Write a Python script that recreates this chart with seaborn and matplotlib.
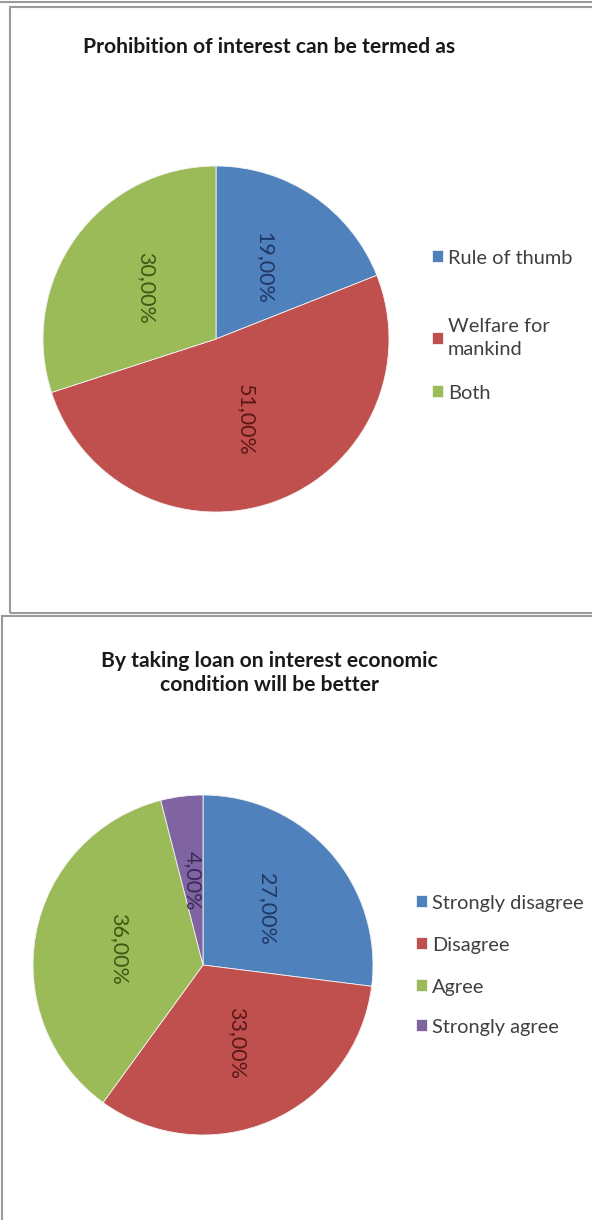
import matplotlib
matplotlib.use("Agg")
import matplotlib.pyplot as plt
import seaborn as sns
from matplotlib.patches import Rectangle
from matplotlib.lines import Line2D

# ---------------- data ----------------
title1 = "Prohibition of interest can be termed as"
labels1 = ["Rule of thumb", "Welfare for\nmankind", "Both"]
values1 = [19, 51, 30]

title2 = "By taking loan on interest economic\ncondition will be better"
labels2 = ["Strongly disagree", "Disagree", "Agree", "Strongly agree"]
values2 = [27, 33, 36, 4]

# ---------------- style ----------------
sns.set_theme(style="white")
plt.rcParams['font.family'] = ['Lato', 'DejaVu Sans']

W, H = 592, 1220
fig = plt.figure(figsize=(W / 100, H / 100), dpi=100)
fig.patch.set_facecolor("white")

palette = sns.color_palette(["#4F81BD", "#C0504D", "#9BBB59", "#8064A2"])
dark = ["#1F3864", "#5A1716", "#3B5A12", "#3C2A5C"]
legend_text_color = "#404040"
border_color = "#9a9a9a"


def fx(x):
    return x / W


def fy(y):
    return 1 - y / H


# panel frames
fig.add_artist(Line2D([0, 1], [fy(1.5), fy(1.5)], transform=fig.transFigure,
                      color=border_color, lw=1.5))
fig.add_artist(Rectangle((fx(10), fy(613)), fx(600 - 10), (613 - 7) / H,
                         transform=fig.transFigure, fill=False,
                         ec=border_color, lw=1.5))
fig.add_artist(Rectangle((fx(2), fy(1240)), fx(600 - 2), (1240 - 616) / H,
                         transform=fig.transFigure, fill=False,
                         ec=border_color, lw=1.5))


def fmt(p):
    return f"{p:.2f}".replace(".", ",") + "%"


def draw_pie(values, labels, cx, cy, r, title, title_xy, legend_x, legend_rows):
    ax = fig.add_axes([fx(cx - r), fy(cy + r), 2 * r / W, 2 * r / H])
    n = len(values)
    wedges, texts, autotexts = ax.pie(
        values, colors=palette[:n], startangle=90, counterclock=False,
        autopct=fmt, pctdistance=0.5,
        wedgeprops=dict(edgecolor="#f4f4f4", linewidth=0.6),
    )
    for i, t in enumerate(autotexts):
        t.set_rotation(270)
        t.set_color(dark[i])
        t.set_fontsize(15.5)
    ax.set_xlim(-1, 1)
    ax.set_ylim(-1, 1)
    ax.set_axis_off()

    fig.text(fx(title_xy[0]), fy(title_xy[1]), title, ha="center", va="center",
             fontsize=15.2, fontweight="bold", color="#1a1a1a", linespacing=1.2)

    for i, (w, lab) in enumerate(zip(wedges, labels)):
        leg = fig.legend([w], [lab], loc="upper left",
                         bbox_to_anchor=(fx(legend_x), fy(legend_rows[i])),
                         frameon=False, borderpad=0, borderaxespad=0,
                         fontsize=14.4, handlelength=0.55, handleheight=0.55,
                         handletextpad=0.25, labelcolor=legend_text_color)
        for t in leg.get_texts():
            t.set_linespacing(1.4)
    return ax


draw_pie(values1, labels1, 216, 339, 173, title1, (269, 47), 432,
         [249.5, 318.5, 384.5])
draw_pie(values2, labels2, 203, 965, 170, title2, (269, 673), 416,
         [894.5, 936.5, 978.5, 1018.5])

fig.savefig("out.png", dpi=100, facecolor="white")
